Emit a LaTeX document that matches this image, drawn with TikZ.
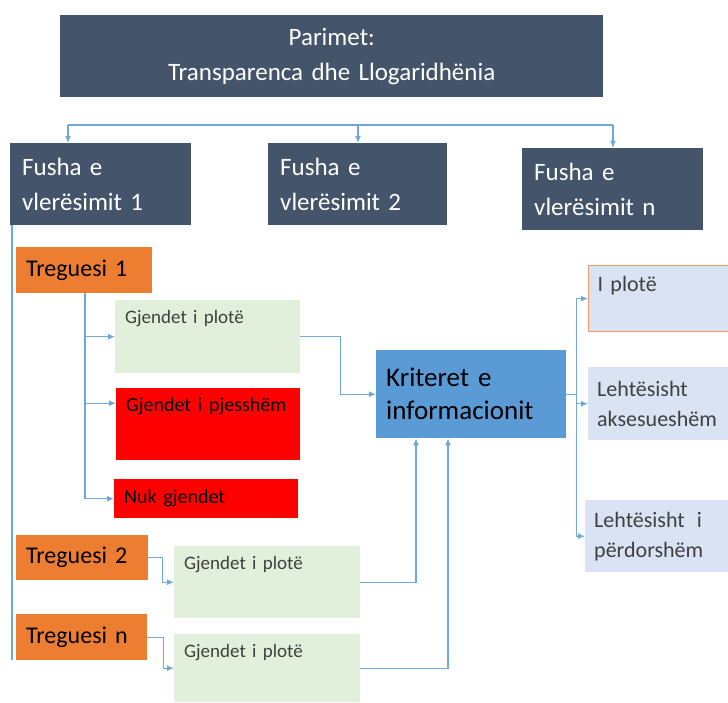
\documentclass[tikz,border=0pt]{standalone}
\usepackage{fontspec}
\setmainfont{Carlito}[WordSpace=0.8]
\usepackage{xcolor}
\usetikzlibrary{arrows.meta}

\definecolor{slate}{HTML}{44546A}
\definecolor{tregorange}{HTML}{ED7D31}
\definecolor{stategreen}{HTML}{E2EFDA}
\definecolor{statered}{HTML}{FF0000}
\definecolor{kritblue}{HTML}{5B9BD5}
\definecolor{resultblue}{HTML}{DAE3F3}
\definecolor{linkblue}{HTML}{6FA8DC}
\definecolor{darktext}{HTML}{404040}

\begin{document}
\begin{tikzpicture}[
  x=1pt, y=-1pt,
  every node/.style={
    rectangle,
    anchor=north west,
    align=left,
    inner sep=0pt
  },
  headbox/.style={fill=slate, text=white, inner xsep=12pt, font=\fontsize{25}{35}\selectfont},
  tregbox/.style={fill=tregorange, text=black, inner xsep=10pt, font=\fontsize{24}{30}\selectfont},
  statebox/.style={fill=stategreen, text=darktext, inner xsep=10pt, font=\fontsize{19}{24}\selectfont},
  redbox/.style={fill=statered, text=black, inner xsep=10pt, font=\fontsize{20}{24}\selectfont},
  kritbox/.style={fill=kritblue, text=black, inner xsep=10pt, font=\fontsize{27}{33}\selectfont},
  resultbox/.style={fill=resultblue, text=darktext, inner xsep=9pt, font=\fontsize{22}{30}\selectfont},
  toptext/.style={inner ysep=8pt, text height=15pt, text depth=#1},
  link/.style={draw=linkblue, line width=1.2pt},
  linkarr/.style={link, -{Latex[length=7pt,width=6pt]}}
]
\useasboundingbox (0,0) rectangle (728,702);

% principle and assessment fields
\node[headbox, align=center, inner xsep=0pt, text width=543pt, minimum height=82pt] (top) at (60,15)
  {Parimet:\\Transparenca dhe Llogaridhënia};
\node[headbox, text width=157pt, minimum height=82pt] (f1) at (10,143) {Fusha e\\vlerësimit 1};
\node[headbox, text width=155pt, minimum height=82pt] (f2) at (268,143) {Fusha e\\vlerësimit 2};
\node[headbox, text width=157pt, minimum height=82pt] (fn) at (522,148) {Fusha e\\vlerësimit n};

% indicators and their states
\node[tregbox, text width=116pt, minimum height=46pt] (t1) at (16,247) {Treguesi 1};
\node[statebox, toptext=42pt, text width=165pt] (g1) at (115,300) {Gjendet i plotë};
\node[redbox, toptext=41pt, text width=164pt] (p1) at (116,388) {Gjendet i pjesshëm};
\node[redbox, text width=164pt, minimum height=39pt] (n1) at (114,479) {Nuk gjendet};
\node[tregbox, text width=112pt, minimum height=45pt] (t2) at (16,535) {Treguesi 2};
\node[statebox, toptext=41pt, text width=166pt] (g2) at (174,546) {Gjendet i plotë};
\node[tregbox, text width=111pt, minimum height=46pt] (tn) at (16,614) {Treguesi n};
\node[statebox, toptext=37pt, text width=166pt] (g3) at (174,634) {Gjendet i plotë};

% criteria
\node[kritbox, text width=170pt, minimum height=88pt] (krit) at (376,350) {Kriteret e\\informacionit};
\node[resultbox, draw=tregorange!75, line width=1.2pt, inner ysep=9pt, text height=17pt, text depth=31pt,
  text width=122pt] (r1) at (588,265) {I plotë};
\node[resultbox, text width=122pt, minimum height=73pt] (r2) at (588,367) {Lehtësisht\\aksesueshëm};
\node[resultbox, text width=125pt, minimum height=72pt] (r3) at (585,500) {Lehtësisht\hskip 12pt i\\përdorshëm};

% top bus
\coordinate (busL) at (68,125);
\coordinate (busM) at (358,125);
\coordinate (busR) at (613,125);
\draw[link] (busL) -- (busR);
\draw[linkarr] (busL) -- (busL |- f1.north);
\draw[linkarr] (busM) -- (busM |- f2.north);
\draw[linkarr] (busR) -- (busR |- fn.north);

% left rail
\coordinate (rail1) at ([xshift=2pt]f1.south west);
\draw[link] (rail1) -- (rail1 |- tn.south);

% indicator 1 branches
\coordinate (t1x) at ([xshift=69pt]t1.south west);
\coordinate (p1in) at ([yshift=21pt]p1.west);
\draw[linkarr] (t1x) |- (n1.west);
\draw[linkarr] (t1x |- g1.west) -- (g1.west);
\draw[linkarr] (t1x |- p1in) -- (p1in);

% indicators 2 and n
\draw[linkarr] (t2.east) -- ++(14,0) |- (g2.west);
\draw[linkarr] (tn.east) -- ++(16,0) |- (g3.west);

% into the criteria
\coordinate (k2) at ([xshift=40pt]krit.south west);
\coordinate (k3) at ([xshift=72pt]krit.south west);
\draw[linkarr] (g1.east) -- ++(40,0) |- (krit.west);
\draw[linkarr] (g2.east) -| (k2);
\draw[linkarr] (g3.east) -| (k3);

% out of the criteria
\coordinate (rail2) at ([xshift=10pt]krit.east);
\draw[link] (krit.east) -- (rail2);
\draw[linkarr] (rail2) |- (r1.west);
\draw[linkarr] (rail2) |- (r2.west);
\draw[linkarr] (rail2) |- (r3.west);
\end{tikzpicture}
\end{document}
